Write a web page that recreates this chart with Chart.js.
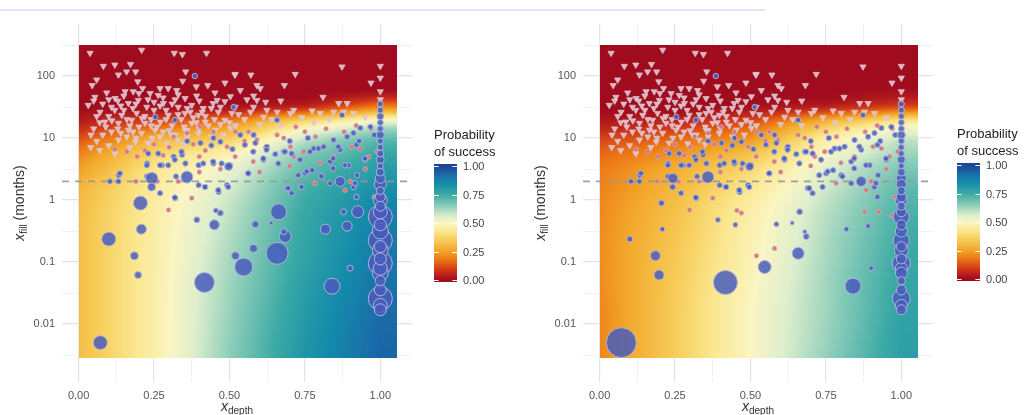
<!DOCTYPE html>
<html>
<head>
<meta charset="utf-8">
<script src="https://cdn.jsdelivr.net/npm/chart.js@4.4.1/dist/chart.umd.min.js"></script>
<style>
html,body{margin:0;padding:0;background:#fff;width:1026px;height:415px;overflow:hidden;position:relative;font-family:"Liberation Sans",Arial,sans-serif;}
.panel{position:absolute;top:0;width:522px;height:415px;}
.topline{position:absolute;left:0;top:9px;width:765px;height:2px;background:#dde6fb;}
.ytitle{position:absolute;width:200px;height:18px;line-height:18px;text-align:center;transform:rotate(-90deg);font-size:14px;color:#333;white-space:nowrap;}
.xtitle{position:absolute;width:200px;height:16px;line-height:16px;text-align:center;font-size:14px;color:#333;white-space:nowrap;}
sub{font-size:10px;vertical-align:-3px;}
</style>
</head>
<body>
<div class="topline"></div>
<canvas id="left" class="panel" width="522" height="415" style="left:0px"></canvas>
<canvas id="right" class="panel" width="522" height="415" style="left:521px"></canvas>
<div class="ytitle" style="left:-81px;top:194px"><i>x</i><sub>fill</sub> (months)</div>
<div class="xtitle" style="left:137px;top:398px"><i>x</i><sub>depth</sub></div>
<div class="ytitle" style="left:440px;top:194px"><i>x</i><sub>fill</sub> (months)</div>
<div class="xtitle" style="left:658px;top:398px"><i>x</i><sub>depth</sub></div>
<script>
// ---------------- DATA ----------------
// axis breaks
const depthTicks = [0, 0.25, 0.5, 0.75, 1];
const fillTicks = [0.01, 0.1, 1, 10, 100];
const fillThreshold = [2];               // dashed reference line (months)

// probability-of-success surface, read at grid points
const heatDepth = [0, 0.25, 0.5, 0.75, 1.0];
const heatDepthMax = 1.056;
const heatFillLog10 = [-2.55, -2, -1, 0, 0.25, 0.5, 0.75, 1.0, 1.25, 1.5, 1.75, 2.0, 2.5];
const probLeft = [
  [0.31,0.46,0.65,0.82,0.94],
  [0.31,0.46,0.64,0.81,0.93],
  [0.31,0.46,0.62,0.78,0.90],
  [0.30,0.45,0.58,0.75,0.86],
  [0.28,0.44,0.56,0.73,0.83],
  [0.24,0.42,0.53,0.70,0.80],
  [0.19,0.37,0.47,0.66,0.76],
  [0.12,0.27,0.35,0.58,0.70],
  [0.04,0.12,0.20,0.40,0.55],
  [0.00,0.01,0.02,0.06,0.20],
  [0,0,0,0,0.01],
  [0,0,0,0,0],
  [0,0,0,0,0]
];
const probRight = [
  [0.20,0.35,0.50,0.64,0.79],
  [0.20,0.35,0.50,0.63,0.78],
  [0.21,0.34,0.48,0.62,0.76],
  [0.20,0.31,0.45,0.59,0.72],
  [0.19,0.29,0.42,0.57,0.70],
  [0.18,0.27,0.38,0.55,0.67],
  [0.15,0.22,0.32,0.50,0.63],
  [0.10,0.15,0.22,0.45,0.58],
  [0.03,0.06,0.12,0.30,0.45],
  [0.00,0.00,0.01,0.05,0.12],
  [0,0,0,0,0.01],
  [0,0,0,0,0],
  [0,0,0,0,0]
];

// down-triangles (both panels)
const triDepth = [0.038,0.209,0.317,0.344,0.424,0.082,0.12,0.172,0.132,0.159,
 0.189,0.06,0.045,0.196,0.355,0.345,0.428,0.39,0.485,0.518,
 0.093,0.154,0.181,0.212,0.237,0.297,0.325,0.264,0.054,0.121,
 0.198,0.353,0.391,0.452,0.032,0.109,0.165,0.226,0.281,0.33,
 0.375,0.413,0.446,0.485,0.071,0.143,0.192,0.297,0.353,0.397,
 0.463,0.508,0.041,0.087,0.132,0.176,0.22,0.271,0.375,0.42,
 0.485,0.109,0.165,0.209,0.253,0.308,0.353,0.397,0.453,0.503,
 0.132,0.188,0.243,0.292,0.33,0.519,0.571,0.718,0.682,0.873,
 1.0,1.0,0.969,1.0,0.81,0.862,0.89,0.536,0.591,0.602,
 0.558,0.591,0.503,0.459,0.519,0.58,0.624,0.658,0.702,0.713,
 0.774,0.801,0.845,0.878,0.911,0.613,0.07,0.05,0.1,0.15,
 0.25,0.28,0.24,0.31,0.34,0.06,0.04,0.1,0.16,0.2,
 0.27,0.36,0.43,0.44,0.48,0.55,0.6,0.64,0.67,0.74,
 0.78,0.83,0.95,1.0,0.58,0.62,0.67,
 0.08,0.13,0.18,0.23,0.27,0.32,0.36,0.12,0.17,0.22,
 0.26,0.29,0.33,0.38,0.41,0.47,0.09,0.14,0.19,0.23,
 0.3,0.35,0.4,0.45,0.5,0.53,0.57,0.07,0.12,0.17,
 0.06,0.11,0.14,0.19,0.21,0.25,0.29,0.31,0.35,0.37,
 0.39,0.42,0.05,0.1,0.15,0.2,0.27,0.33,0.4,0.44,
 0.16,0.13,0.08,0.18,0.24,0.28,0.32,0.36,0.47,0.52];
const triFillLog10 = [2.37,2.42,2.37,2.35,2.37,2.16,2.18,2.19,2.02,2.07,
 2.07,1.94,1.85,1.91,2.07,1.92,1.85,1.83,1.89,2.02,
 1.73,1.75,1.75,1.80,1.72,1.80,1.77,1.69,1.66,1.64,
 1.61,1.64,1.68,1.73,1.53,1.50,1.56,1.50,1.56,1.50,
 1.53,1.48,1.56,1.59,1.42,1.37,1.40,1.37,1.40,1.37,
 1.42,1.40,1.05,1.26,1.24,1.29,1.24,1.26,1.24,1.26,
 1.29,1.10,1.13,1.08,1.13,1.05,1.13,1.08,1.13,1.16,
 0.97,0.94,1.00,0.91,0.97,2.03,2.02,2.03,1.85,2.15,
 2.16,1.97,1.89,1.75,1.66,1.56,1.56,1.77,1.85,1.80,
 1.62,1.61,1.67,1.61,1.50,1.50,1.45,1.42,1.40,1.45,
 1.44,1.40,1.42,1.42,1.40,1.34,1.25,1.15,1.35,1.45,
 1.45,1.65,1.30,1.20,1.30,0.95,0.85,0.88,1.02,1.18,
 1.02,1.02,1.20,1.02,1.05,1.30,1.22,1.30,1.20,1.33,
 1.25,1.30,1.33,1.62,1.68,1.58,1.60,
 1.55,1.60,1.48,1.62,1.52,1.62,1.48,1.45,1.20,1.35,
 1.18,1.30,1.38,1.33,1.42,1.50,1.18,1.08,1.00,0.92,
 1.12,0.90,1.15,1.30,1.25,1.38,1.42,0.80,0.75,0.85,
 1.35,1.28,1.52,1.55,1.32,1.58,1.45,1.55,1.18,1.42,
 1.25,1.35,1.60,1.62,1.68,1.72,1.80,1.70,1.60,1.48,
 1.30,1.15,1.05,1.10,1.20,1.10,1.05,1.12,1.22,1.20];

// small pink points (both panels)
const dotDepth = [0.16,0.194,0.315,0.359,0.403,0.447,0.492,0.519,0.563,0.591,
 0.658,0.702,0.713,0.746,0.785,0.845,0.906,0.934,0.961,0.989,
 0.3,0.25,0.38,0.42,0.55,0.62,0.68,0.75,0.82,0.88,
 0.92,0.97,0.72,0.52,0.4,0.28,0.22,0.12,0.47,0.298,
 0.375,0.579,0.883,0.784,0.19,0.26,0.33,0.4,0.6,0.7,
 0.8,0.9,0.95,0.98,0.97];
const dotFillLog10 = [0.78,0.70,1.02,1.08,1.18,1.10,0.86,0.70,1.10,0.97,
 1.05,0.86,0.70,0.78,1.02,0.70,0.86,0.83,0.70,0.78,
 0.85,0.90,0.90,0.80,0.95,0.85,1.00,1.10,1.15,1.10,
 1.20,1.15,1.18,1.10,0.70,0.72,0.80,0.82,0.50,-0.16,
 0.03,0.62,0.16,0.27,0.30,0.30,0.30,0.45,0.45,0.55,
 0.60,0.30,0.50,0.05,-0.25];

// small blue points (both panels)
const blueDepth = [0.385,0.514,0.254,0.873,0.658,0.319,
 0.404,0.447,0.47,0.536,0.586,0.624,0.652,0.68,0.779,0.812,
 0.845,0.867,0.89,0.911,0.934,0.967,0.276,0.227,0.315,0.343,
 0.354,0.398,0.447,0.227,0.323,0.133,0.398,0.42,0.464,0.492,
 0.563,0.613,0.69,0.751,0.774,0.801,0.834,0.923,0.911,0.834,
 0.895,0.95,0.32,0.551,0.579,0.623,0.684,0.706,0.612,0.662,
 0.734,0.767,0.795,0.844,0.883,0.861,0.921,0.949,0.562,0.728,
 0.756,0.805,0.844,0.695,0.739,0.916,0.706,0.921,0.137,0.226,
 0.27,0.297,0.319,0.413,0.446,0.474,0.502,0.419,0.463,0.496,
 0.319,0.27,0.231,0.264,0.341,0.132,0.104,0.36,0.44,0.51,
 0.58,0.7,0.76,0.93,0.98];
const blueFillLog10 = [2.00,1.50,1.34,1.37,1.29,1.29,
 0.92,1.00,0.94,1.05,0.92,0.86,0.74,0.78,0.83,0.86,
 0.97,0.81,1.02,1.08,1.16,1.18,0.56,0.59,0.70,0.73,
 0.59,0.56,0.59,0.38,0.38,0.40,0.24,0.21,0.13,0.24,
 0.43,0.65,0.19,0.43,0.48,0.40,0.27,0.40,0.21,0.62,
 0.56,0.65,0.03,0.89,0.78,0.81,0.78,0.75,0.67,0.59,
 0.65,0.78,0.83,0.67,0.56,0.86,0.89,0.67,0.43,0.40,
 0.46,0.38,0.51,0.19,0.21,0.27,0.11,0.05,0.43,0.56,
 0.56,0.56,0.65,0.59,0.62,0.59,0.56,0.21,0.16,0.21,
 0.04,0.11,0.75,0.75,0.78,0.30,0.30,0.95,0.88,0.82,
 1.05,0.95,1.00,0.95,1.05];

// bubbles: position and size (left panel / right panel; 0 = shown as small pink point on the right)
const bubDepth = [0.072,0.1,0.205,0.208,0.185,0.197,0.392,0.45,0.455,0.47,
 0.417,0.52,0.547,0.58,0.586,0.638,0.663,0.658,0.685,0.68,
 0.818,0.89,0.878,0.925,0.90,0.84,0.243,0.359,0.497,0.867,0.242,
 1,1,1,1,1,1,1,1,1,1,1,1,1,1,1,1,1,1,1,1,1,1,1,1,1,1,1,1,1,1,1,1,1,1];
const bubFillLog10 = [-2.30,-0.63,-0.05,-0.47,-0.90,-1.21,-0.32,-0.40,-0.17,-0.21,
 -1.33,-0.90,-1.08,-0.78,-0.39,-0.37,-0.19,-0.86,-0.59,-0.51,
 -0.47,-0.42,-0.19,-0.19,-1.10,-1.39,0.35,0.37,0.54,0.30,0.21,
 1.55,1.45,1.35,1.25,1.15,1.05,0.95,0.85,0.75,0.65,0.55,0.45,0.35,0.25,0.15,0.05,0,-0.1,-0.19,-0.27,
 -0.4,-0.5,-0.65,-0.75,-0.81,-0.95,-1.02,-1.1,-1.18,-1.3,-1.45,-1.59,-1.7,-1.77];
const bubSizeLeft = [7,7,7,5,4,3.5,3,5,2.5,3,
 10,4,9,4,3.5,2,8,11,6,3,
 5,5,3,6,3,8,6,6,4,5,4,
 3,3,3.5,3,3,4,3,3,3.5,4,3,4,5,6,4,5,7,5,7,12,
 6,8,12,6,8,6,12,7,8,5,6,12,7,6];
const bubSizeRight = [15,3,3,2.5,5,5,2.5,2.5,0,0,
 12,0,6.5,0,2.5,2,3,6,3,2,
 2.5,2.5,0,0,2.5,8,5,6,4,5,3,
 3,3,3,3,3,4,3,3,3,4,3,4,5,5,4,5,6,4,5,8,
 5,6,8,5,7,5,9,6,6,4,5,9,6,5];

// ---------------- STYLE ----------------
const X_MIN = -0.055, X_MAX = 1.105;
const Y_MIN = Math.pow(10, -2.935), Y_MAX = Math.pow(10, 2.839);
const PAL = [[0,160,12,30],[0.08,205,50,25],[0.17,235,115,20],[0.25,242,165,40],[0.35,247,205,90],
  [0.42,250,230,140],[0.5,250,245,195],[0.56,222,238,205],[0.65,140,205,185],[0.75,60,170,165],
  [0.85,20,140,170],[0.92,25,110,170],[1,30,70,150]];
function palette(p){
  p = Math.max(0, Math.min(1, p));
  for (let i = 1; i < PAL.length; i++) {
    if (p <= PAL[i][0]) {
      const a = PAL[i-1], b = PAL[i], t = (p - a[0]) / (b[0] - a[0]);
      return [a[1]+(b[1]-a[1])*t, a[2]+(b[2]-a[2])*t, a[3]+(b[3]-a[3])*t];
    }
  }
  return PAL[PAL.length-1].slice(1);
}
function locate(arr, v){
  const n = arr.length;
  if (v <= arr[0]) return [0, 0];
  if (v >= arr[n-1]) return [n-2, 1];
  for (let k = 0; k < n-1; k++) if (v <= arr[k+1]) return [k, (v-arr[k])/(arr[k+1]-arr[k])];
  return [n-2, 1];
}
function slopes(ys, vs){
  const n = ys.length, d = [], m = [];
  for (let k = 0; k < n-1; k++) d.push((vs[k+1]-vs[k])/(ys[k+1]-ys[k]));
  m[0] = d[0]; m[n-1] = d[n-2];
  for (let k = 1; k < n-1; k++) m[k] = (d[k-1]*d[k] <= 0) ? 0 : (d[k-1]+d[k])/2;
  return m;
}

const heatPlugin = {
  id: 'heat',
  beforeDatasetsDraw(chart, args, opts){
    const grid = opts.grid;
    const {ctx, scales:{x, y}} = chart;
    const px0 = Math.round(x.getPixelForValue(heatDepth[0]));
    const px1 = Math.round(x.getPixelForValue(heatDepthMax));
    const py0 = Math.round(y.getPixelForValue(Math.pow(10, heatFillLog10[heatFillLog10.length-1])));
    const py1 = Math.round(y.getPixelForValue(Math.pow(10, heatFillLog10[0])));
    const w = px1 - px0, h = py1 - py0;
    const off = document.createElement('canvas'); off.width = w; off.height = h;
    const octx = off.getContext('2d'); const img = octx.createImageData(w, h);
    const nc = heatDepth.length;
    const colVals = [], colSlopes = [];
    for (let c = 0; c < nc; c++) { const vs = grid.map(r => r[c]); colVals.push(vs); colSlopes.push(slopes(heatFillLog10, vs)); }
    const xi = [];
    for (let i = 0; i < w; i++) xi.push(locate(heatDepth, x.getValueForPixel(px0 + i + 0.5)));
    for (let j = 0; j < h; j++) {
      const ly = Math.log10(y.getValueForPixel(py0 + j + 0.5));
      const [k, t] = locate(heatFillLog10, ly);
      const hh = heatFillLog10[k+1] - heatFillLog10[k];
      const h00 = 2*t*t*t - 3*t*t + 1, h10 = t*t*t - 2*t*t + t, h01 = -2*t*t*t + 3*t*t, h11 = t*t*t - t*t;
      const cv = [];
      for (let c = 0; c < nc; c++) {
        const v = colVals[c], m = colSlopes[c];
        let p = h00*v[k] + h10*hh*m[k] + h01*v[k+1] + h11*hh*m[k+1];
        p = Math.max(Math.min(v[k], v[k+1]), Math.min(Math.max(v[k], v[k+1]), p));
        cv.push(p);
      }
      for (let i = 0; i < w; i++) {
        const [c, s] = xi[i];
        const p = cv[c]*(1-s) + cv[c+1]*s;
        const col = palette(p); const q = (j*w + i)*4;
        img.data[q] = col[0]; img.data[q+1] = col[1]; img.data[q+2] = col[2]; img.data[q+3] = 255;
      }
    }
    octx.putImageData(img, 0, 0);
    ctx.drawImage(off, px0, py0);
  }
};

const barPlugin = {
  id: 'pbar',
  afterDraw(chart, args, o){
    const ctx = chart.ctx;
    const bw = 23, bh = 114, left = o.left, top = o.top;
    ctx.save();
    const g = ctx.createLinearGradient(0, top + bh, 0, top);
    for (let s = 0; s <= 1.0001; s += 0.02) { const c = palette(s); g.addColorStop(Math.min(1, s), `rgb(${c[0]|0},${c[1]|0},${c[2]|0})`); }
    ctx.fillStyle = g; ctx.fillRect(left, top - 2, bw, bh + 4);
    ctx.strokeStyle = '#ffffff'; ctx.lineWidth = 1;
    ctx.font = '11px "Liberation Sans", Arial, sans-serif'; ctx.fillStyle = '#444'; ctx.textBaseline = 'middle'; ctx.textAlign = 'left';
    [0, 0.25, 0.5, 0.75, 1].forEach(v => {
      const yy = Math.round(top + bh - v*bh) + 0.5;
      ctx.beginPath(); ctx.moveTo(left, yy); ctx.lineTo(left + 4.6, yy); ctx.moveTo(left + bw - 4.6, yy); ctx.lineTo(left + bw, yy); ctx.stroke();
      ctx.fillText(v.toFixed(2), left + bw + 6, yy);
    });
    ctx.font = '13px "Liberation Sans", Arial, sans-serif'; ctx.fillStyle = '#222';
    ctx.fillText('Probability', left, top - 31);
    ctx.fillText('of success', left, top - 14);
    ctx.restore();
  }
};

function isMult(v, step){ return Math.abs(v/step - Math.round(v/step)) < 1e-6; }

function pts(xs, ls){ return xs.map((x, i) => ({x: x, y: Math.pow(10, ls[i])})); }

function makeChart(id, grid, sizes, legendPos){
  const order = bubDepth.map((_, i) => i).filter(i => sizes[i] > 0).sort((a, b) => sizes[b] - sizes[a]);
  const bubData = order.map(i => ({x: bubDepth[i], y: Math.pow(10, bubFillLog10[i])}));
  const bubR = order.map(i => sizes[i]);
  const extraPink = bubDepth.map((_, i) => i).filter(i => sizes[i] === 0);
  const pinkData = pts(dotDepth, dotFillLog10).concat(extraPink.map(i => ({x: bubDepth[i], y: Math.pow(10, bubFillLog10[i])})));
  const TXT = {family: '"Liberation Sans", Arial, sans-serif', size: 11};
  return new Chart(document.getElementById(id), {
    type: 'scatter',
    data: { datasets: [
      { data: [{x: X_MIN, y: fillThreshold[0]}, {x: X_MAX, y: fillThreshold[0]}], showLine: true, pointRadius: 0,
        borderColor: 'rgba(150,150,150,0.9)', borderWidth: 1.6, borderDash: [7, 6], order: 10 },
      { data: pts(triDepth, triFillLog10), pointStyle: 'triangle', pointRotation: 180, pointRadius: 3.6,
        backgroundColor: 'rgba(238,192,202,0.92)', borderColor: 'rgba(212,205,218,0.9)', borderWidth: 0.8, order: 5 },
      { data: pinkData, pointStyle: 'circle', pointRadius: 2.3,
        backgroundColor: 'rgba(222,112,122,0.95)', borderColor: 'rgba(205,185,200,0.8)', borderWidth: 0.8, order: 4 },
      { data: pts(blueDepth, blueFillLog10), pointStyle: 'circle', pointRadius: 2.7,
        backgroundColor: 'rgba(72,92,188,0.88)', borderColor: 'rgba(175,180,215,0.95)', borderWidth: 1, order: 3 },
      { data: bubData, pointStyle: 'circle', pointRadius: bubR,
        backgroundColor: 'rgba(72,92,188,0.85)', borderColor: 'rgba(180,182,215,0.95)', borderWidth: 1, order: 2 }
    ]},
    options: {
      responsive: false, animation: false, events: [],
      layout: { padding: { left: 0, right: 110, top: 24, bottom: 0 } },
      plugins: { legend: { display: false }, tooltip: { enabled: false },
        heat: { grid: grid }, pbar: legendPos },
      scales: {
        x: { type: 'linear', min: X_MIN, max: X_MAX,
          afterBuildTicks: s => { s.ticks = [0,1,2,3,4,5,6,7,8].map(k => ({value: k*0.125})); },
          afterFit: s => { s.height = 33; },
          border: { display: false },
          grid: { drawTicks: false, color: c => isMult(c.tick.value, 0.25) ? '#e3e3e3' : '#efefef',
                  lineWidth: c => isMult(c.tick.value, 0.25) ? 1.2 : 0.8 },
          ticks: { autoSkip: false, maxRotation: 0, padding: 7, color: '#555', font: TXT,
                   callback: v => { const t = depthTicks.find(d => Math.abs(d - v) < 1e-6); return t === undefined ? '' : t.toFixed(2); } } },
        y: { type: 'logarithmic', min: Y_MIN, max: Y_MAX,
          afterBuildTicks: s => { s.ticks = [-5,-4,-3,-2,-1,0,1,2,3,4,5].map(k => ({value: Math.pow(10, k/2)})); },
          afterFit: s => { s.width = 62; },
          border: { display: false },
          grid: { drawTicks: false,
                  color: c => fillTicks.some(f => Math.abs(Math.log10(f) - Math.log10(c.tick.value)) < 1e-6) ? '#e3e3e3' : '#efefef',
                  lineWidth: c => fillTicks.some(f => Math.abs(Math.log10(f) - Math.log10(c.tick.value)) < 1e-6) ? 1.2 : 0.8 },
          ticks: { autoSkip: false, padding: 7, color: '#555', font: TXT,
                   callback: v => { const t = fillTicks.find(f => Math.abs(Math.log10(f) - Math.log10(v)) < 1e-6); return t === undefined ? '' : String(t); } } }
      }
    },
    plugins: [heatPlugin, barPlugin]
  });
}

makeChart('left', probLeft, bubSizeLeft, {left: 434, top: 166});
makeChart('right', probRight, bubSizeRight, {left: 436, top: 165});
</script>
</body>
</html>
